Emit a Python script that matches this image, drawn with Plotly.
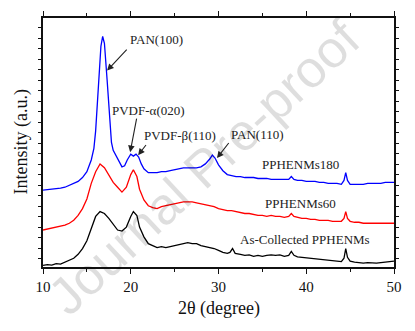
import plotly.graph_objects as go

# ---- data (intensity in arbitrary units) ----
x_black = [10,10.5,11,11.5,12,12.5,13,13.5,14,14.5,15,15.5,16,16.5,17,17.5,18,18.5,19,19.5,20,20.3,20.7,21,21.5,22,22.5,23,23.5,24,24.5,25,25.5,26,26.5,27,27.5,28,28.5,29,29.5,30,30.5,31,31.3,31.6,31.9,32.5,33,33.5,34,34.5,35,35.5,36,36.5,37,37.5,38,38.3,38.6,39,39.5,40,40.5,41,41.5,42,42.5,43,43.5,44,44.3,44.5,44.7,45,45.5,46,46.5,47,47.5,48,48.5,49,49.5,50]
y_black = [1.7,2.5,2,3.5,3,5,6.5,9,13,19,27,40,52,57,55,50,44,38,37,41,52,57,53,41,31,24,22,20,21,20,21,22,23,24,25,24,24,22,21,20,19,17,15,14,15,19,14,13,12,12.5,11,12,11,12,12.5,12,12.5,11,12,16,12,10.5,10,9,9,8,8,7,7,6,6,5.5,9,19,10,6,5,4.5,4,4.5,4,4,4.5,5,5,6]

x_red = [10,10.5,11,11.5,12,12.5,13,13.5,14,14.5,15,15.5,16,16.5,17,17.5,18,18.5,19,19.5,20,20.3,20.7,21,21.5,22,22.5,23,23.5,24,24.5,25,25.5,26,26.5,27,27.5,28,28.5,29,29.5,30,30.5,31,31.5,32,32.5,33,33.5,34,34.5,35,35.5,36,36.5,37,37.5,38,38.3,38.6,39,39.5,40,40.5,41,41.5,42,42.5,43,43.5,44,44.3,44.5,44.7,45,45.5,46,46.5,47,47.5,48,48.5,49,49.5,50]
y_red = [38,39,40,40.5,42,43,45,48,53,60,70,86,98,106,102,94,87,82,77,82,95,100,93,80,69,63,61,60,62,63,64,65,66,67,67,67,66,65,64,63,62,60,59,58,58,57,56,55,55,54,53,53,52,53,52,52,51,52,55,52,51,50,50,49,49,48,48,48,47,47,47,50,57,50,47,46,46,45,45,45,45,45,45,45,45]

x_blue = [10,10.5,11,11.5,12,12.5,13,13.5,14,14.5,15,15.5,15.8,16,16.3,16.6,16.8,17,17.3,17.6,17.8,18,18.5,19,19.3,19.6,20,20.3,20.6,20.9,21.2,21.5,22,22.5,23,23.5,24,24.5,25,25.5,26,26.5,27,27.5,28,28.5,29,29.3,29.6,30,30.5,31,31.5,32,32.5,33,33.5,34,34.5,35,35.5,36,36.5,37,37.5,38,38.3,38.6,39,39.5,40,40.5,41,41.5,42,42.5,43,43.5,44,44.3,44.5,44.7,45,45.5,46,46.5,47,47.5,48,48.5,49,49.5,50]
y_blue = [79,79.5,80,80,81,82,84,86,88,92,98,110,122,140,183,227,237,230,193,147,128,120,112,103,104,110,116,114,116,113,106,101,97,97,97,98,98,99,100,101,102,102,102,102,103,106,111,115,112,105,99,95,94,93,93,92,92,92,91,91,91,90,90,90,90,90,93,90,89,89,88,88,88,87,87,86,86,86,85,89,97,89,85,85,85,85,86,86,86,86,87,87,87]

x_ticks = [10, 20, 30, 40, 50]
y_ticks = [8.4 + 10.8 * i for i in range(23)]

series = [
    ("As-Collected PPHENMs", x_black, y_black, "#000000"),
    ("PPHENMs60", x_red, y_red, "#FF0000"),
    ("PPHENMs180", x_blue, y_blue, "#0000FF"),
]

SERIF = "Liberation Serif, Times New Roman, serif"

fig = go.Figure()
for name, xs, ys, col in series:
    fig.add_trace(go.Scatter(x=xs, y=ys, mode="lines", name=name,
                             line=dict(color=col, width=1.3), showlegend=False))

labels = [
    ("PPHENMs180", 39.4, 105),
    ("PPHENMs60", 39.3, 65),
    ("As-Collected PPHENMs", 39.8, 28),
]
annotations = []
# watermark first (drawn beneath other annotations)
annotations.append(dict(x=0.46, y=0.40, xref="paper", yref="paper",
                        text="Journal Pre-proof", showarrow=False, textangle=-43,
                        font=dict(family="Liberation Sans, Arial, sans-serif", size=52,
                                  color="rgba(0,0,0,0.13)")))
for t, x, y in labels:
    annotations.append(dict(x=x, y=y, text=t, showarrow=False,
                            font=dict(family=SERIF, size=13, color="#222")))

# peak annotations with arrows: (text, text x, text y, head x, head y, tail x, tail y)
peaks = [
    ("PAN(100)", 22.9, 234, 17.3, 202, 19.7, 225),
    ("PVDF-α(020)", 22.0, 161, 19.93, 118, 20.7, 154),
    ("PVDF-β(110)", 25.6, 135, 20.84, 115, 21.87, 127),
    ("PAN(110)", 34.4, 136, 29.83, 112, 31.3, 129),
]
for t, tx, ty, hx, hy, ax_, ay_ in peaks:
    annotations.append(dict(x=tx, y=ty, text=t, showarrow=False,
                            font=dict(family=SERIF, size=13, color="#222")))
    annotations.append(dict(x=hx, y=hy, ax=ax_, ay=ay_, axref="x", ayref="y",
                            text="", showarrow=True, arrowhead=2, arrowsize=1.2,
                            arrowwidth=1.1, arrowcolor="#222"))

annotations.append(dict(x=0.5, y=0, xref="paper", yref="paper", yshift=-41,
                        text="2θ (degree)", showarrow=False, yanchor="middle",
                        font=dict(family=SERIF, size=18, color="#111")))
annotations.append(dict(x=0, y=0.5, xref="paper", yref="paper", xshift=-22,
                        text="Intensity (a.u.)", showarrow=False, textangle=-90,
                        xanchor="center", font=dict(family=SERIF, size=18, color="#111")))

fig.update_layout(
    width=415, height=331,
    margin=dict(l=43, r=21, t=11, b=64),
    plot_bgcolor="white", paper_bgcolor="white",
    font=dict(family=SERIF, color="#111"),
    annotations=annotations,
    xaxis=dict(range=[10, 50], tickvals=x_ticks, ticks="outside", ticklen=5,
               tickwidth=1.2, tickcolor="#111",
               minor=dict(dtick=5, tick0=10, ticks="outside", ticklen=3, tickcolor="#111"),
               showline=True, linecolor="#111", linewidth=1.5, mirror="ticks",
               showgrid=False, zeroline=False,
               tickfont=dict(family=SERIF, size=15, color="#111")),
    yaxis=dict(range=[0, 256], tickvals=y_ticks, showticklabels=False,
               ticks="outside", ticklen=3, tickcolor="#111",
               showline=True, linecolor="#111", linewidth=1.5, mirror="ticks",
               showgrid=False, zeroline=False),
)

fig.write_html("out.html")
